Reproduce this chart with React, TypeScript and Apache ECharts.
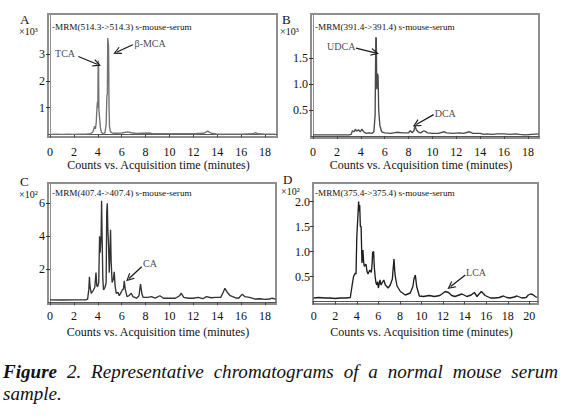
import React, { useEffect, useRef } from 'react';
import * as echarts from 'echarts';

const FONT = 'Liberation Serif, serif';

// Panel A: -MRM(514.3->514.3), counts x10^3 vs time (min)
const dataA: [number, number][] = [
  [0, 0], [0.5, 0.01], [1, 0], [1.5, 0.01], [2, 0], [2.5, 0.01], [3, 0.01], [3.4, 0.02],
  [3.6, 0.1], [3.72, 0.3], [3.8, 0.2], [3.87, 0.45], [3.93, 1.0], [3.97, 1.22], [4.0, 1.0],
  [4.03, 2.75], [4.06, 2.7], [4.09, 0.95], [4.15, 0.6], [4.22, 0.25], [4.3, 0.08], [4.45, 0.02],
  [4.6, 0.05], [4.7, 0.4], [4.76, 1.45], [4.8, 1.5], [4.83, 3.6], [4.86, 3.62], [4.9, 3.3],
  [4.94, 1.0], [4.98, 0.3], [5.05, 0.1], [5.2, 0.05], [5.5, 0.04], [6, 0.05], [6.5, 0.09],
  [6.8, 0.06], [7.2, 0.03], [7.7, 0.04], [8.3, 0.05], [8.5, 0.03], [9, 0.02], [10, 0.02],
  [11, 0.02], [12, 0.02], [12.9, 0.04], [13.2, 0.12], [13.5, 0.04], [14, 0.01], [15, 0.01],
  [16, 0.01], [17, 0.02], [17.2, 0.06], [17.4, 0.02], [18, 0.01], [18.85, 0.01],
];

// Panel B: -MRM(391.4->391.4), counts x10^3
const dataB: [number, number][] = [
  [0, 0.02], [1, 0.02], [2, 0.02], [3, 0.02], [3.2, 0.03], [3.3, 0.1], [3.45, 0.08], [3.55, 0.13],
  [3.65, 0.09], [3.8, 0.12], [3.95, 0.08], [4.1, 0.13], [4.25, 0.08], [4.45, 0.05], [4.7, 0.06],
  [4.95, 0.05], [5.1, 0.08], [5.2, 0.4], [5.26, 1.9], [5.3, 1.88], [5.34, 0.9], [5.4, 1.2],
  [5.45, 1.15], [5.5, 0.5], [5.6, 0.2], [5.75, 0.08], [6, 0.06], [6.5, 0.05], [7, 0.07],
  [7.5, 0.06], [8, 0.06], [8.15, 0.1], [8.3, 0.06], [8.45, 0.1], [8.55, 0.19], [8.65, 0.12],
  [8.8, 0.08], [9, 0.06], [9.3, 0.1], [9.6, 0.06], [10, 0.05], [10.5, 0.05], [11, 0.08],
  [11.2, 0.06], [11.7, 0.05], [12.3, 0.06], [12.6, 0.05], [13.1, 0.08], [13.4, 0.05], [14, 0.05],
  [14.3, 0.03], [14.6, 0.04], [15, 0.03], [15.4, 0.04], [16, 0.04], [16.5, 0.03], [17, 0.04],
  [17.3, 0.03], [17.8, 0.02], [18.3, 0.03], [18.9, 0.04],
];

// Panel C: -MRM(407.4->407.4), counts x10^2
const dataC: [number, number][] = [
  [0, 0.15], [1, 0.14], [2, 0.15], [3, 0.15], [3.15, 0.2], [3.25, 0.8], [3.3, 1.55], [3.36, 0.9],
  [3.45, 0.55], [3.6, 0.7], [3.75, 0.9], [3.85, 1.8], [3.92, 1.0], [4.0, 0.95], [4.08, 1.2],
  [4.15, 4.0], [4.2, 3.0], [4.28, 4.0], [4.32, 6.15], [4.36, 4.2], [4.42, 1.5], [4.48, 0.75],
  [4.6, 0.9], [4.7, 1.2], [4.75, 5.5], [4.8, 6.0], [4.84, 4.5], [4.9, 3.5], [4.96, 1.8],
  [5.02, 3.0], [5.07, 4.4], [5.12, 2.5], [5.2, 1.2], [5.3, 1.4], [5.38, 1.85], [5.45, 1.0],
  [5.55, 0.55], [5.7, 0.6], [5.8, 0.4], [5.95, 0.6], [6.05, 0.75], [6.15, 0.8], [6.22, 1.3],
  [6.3, 0.8], [6.45, 0.35], [6.6, 0.4], [6.8, 0.55], [6.95, 0.35], [7.1, 0.3], [7.25, 0.25],
  [7.45, 0.4], [7.58, 1.1], [7.7, 0.5], [7.8, 0.3], [8.2, 0.3], [8.5, 0.35], [8.8, 0.25],
  [9.2, 0.4], [9.5, 0.25], [10, 0.25], [10.5, 0.25], [10.85, 0.4], [11.0, 0.55], [11.2, 0.3],
  [11.6, 0.25], [12, 0.25], [12.4, 0.3], [12.8, 0.22], [13.1, 0.35], [13.5, 0.28], [13.9, 0.3],
  [14.3, 0.3], [14.5, 0.6], [14.65, 0.85], [14.85, 0.6], [15.1, 0.4], [15.5, 0.28], [15.8, 0.25],
  [16.1, 0.5], [16.3, 0.35], [16.7, 0.3], [17.2, 0.2], [17.6, 0.22], [18, 0.18], [18.4, 0.2],
  [18.6, 0.25], [18.9, 0.2],
];

// Panel D: -MRM(375.4->375.4), counts x10^2
const dataD: [number, number][] = [
  [0, 0.07], [0.5, 0.08], [1, 0.07], [1.5, 0.07], [2, 0.06], [2.5, 0.07], [3, 0.07], [3.4, 0.08],
  [3.6, 0.37], [3.7, 0.5], [3.86, 0.57], [3.93, 0.55], [4.0, 1.3], [4.1, 1.7], [4.17, 2.0],
  [4.22, 1.8], [4.27, 1.93], [4.33, 1.5], [4.4, 1.5], [4.48, 0.77], [4.57, 1.03], [4.63, 0.8],
  [4.7, 0.7], [4.85, 0.75], [4.95, 0.6], [5.04, 0.55], [5.2, 0.63], [5.35, 0.58], [5.42, 0.75],
  [5.47, 0.98], [5.56, 1.0], [5.62, 0.7], [5.7, 0.5], [5.78, 0.37], [5.87, 0.33], [5.93, 0.4],
  [6.0, 0.27], [6.15, 0.43], [6.25, 0.33], [6.34, 0.37], [6.5, 0.43], [6.65, 0.33], [6.9, 0.27],
  [7.1, 0.33], [7.3, 0.45], [7.36, 0.63], [7.45, 0.85], [7.52, 0.6], [7.57, 0.5], [7.73, 0.31],
  [8.04, 0.2], [8.5, 0.13], [8.96, 0.17], [9.2, 0.3], [9.3, 0.45], [9.43, 0.53], [9.55, 0.3],
  [9.8, 0.11], [10.2, 0.1], [10.7, 0.12], [11.2, 0.1], [11.7, 0.12], [12.2, 0.2], [12.5, 0.18],
  [12.8, 0.12], [13.1, 0.1], [13.75, 0.15], [14.2, 0.1], [14.6, 0.13], [14.9, 0.18], [15.15, 0.1],
  [15.3, 0.14], [15.55, 0.2], [15.9, 0.12], [16.4, 0.07], [16.8, 0.07], [17.2, 0.08], [17.6, 0.11],
  [17.9, 0.08], [18.2, 0.07], [18.6, 0.09], [18.85, 0.11], [19.3, 0.07], [19.7, 0.08], [19.9, 0.13],
  [20.1, 0.15], [20.3, 0.14], [20.55, 0.1], [20.7, 0.08],
];

const xTicks19 = [0, 2, 4, 6, 8, 10, 12, 14, 16, 18];
const xTicks20 = [0, 2, 4, 6, 8, 10, 12, 14, 16, 18, 20];
const yTicksA = [1, 2, 3];
const yTicksB = [0.5, 1.0, 1.5];
const yTicksC = [2, 4, 6];
const yTicksD = [0.5, 1.0, 1.5, 2.0];

type Ann = { name: string; label: [number, number]; from: [number, number]; to: [number, number] };
const annA: Ann[] = [
  { name: 'TCA', label: [1.26, 3.04], from: [2.37, 2.91], to: [3.95, 2.62] },
  { name: 'β-MCA', label: [8.38, 3.41], from: [6.93, 3.35], to: [5.6, 3.08] },
];
const annB: Ann[] = [
  { name: 'UDCA', label: [2.36, 1.72], from: [3.6, 1.69], to: [5.2, 1.6] },
  { name: 'DCA', label: [11.08, 0.44], from: [10.1, 0.41], to: [8.65, 0.22] },
];
const annC: Ann[] = [
  { name: 'CA', label: [8.38, 2.36], from: [7.68, 2.16], to: [6.62, 1.45] },
];
const annD: Ann[] = [
  { name: 'LCA', label: [15.06, 0.58], from: [14.06, 0.53], to: [12.7, 0.3] },
];

const axisName = 'Counts vs. Acquisition time (minutes)';
const captionLine1 = ['Figure', '2.', 'Representative', 'chromatograms', 'of', 'a', 'normal', 'mouse', 'serum'];
const captionLine2 = ['sample.'];

const ARROW = 'path://M0,10L5,0L10,10L8.4,10L5,3.2L1.6,10Z';

const panels = [
  { letter: 'A', mult: '×10³', mrm: '-MRM(514.3->514.3) s-mouse-serum', data: dataA, ann: annA,
    grid: { left: 48, top: 14, width: 229, height: 123 }, xMin: -0.17, xMax: 19.0, yMin: -0.1, yMax: 4.5,
    xTicks: xTicks19, yTicks: yTicksA, yDigits: 0, color: '#727272', offset: 4, margin: 5, gap: 18,
    letterPos: [20, 19], multPos: [19, 31.5], mrmPos: [52, 27] },
  { letter: 'B', mult: '×10³', mrm: '-MRM(391.4->391.4) s-mouse-serum', data: dataB, ann: annB,
    grid: { left: 311, top: 14, width: 228, height: 124 }, xMin: -0.17, xMax: 18.93, yMin: -0.04, yMax: 2.35,
    xTicks: xTicks19, yTicks: yTicksB, yDigits: 1, color: '#4a4a4a', offset: 3, margin: 5, gap: 18,
    letterPos: [282, 19], multPos: [280, 31.5], mrmPos: [315, 27] },
  { letter: 'C', mult: '×10²', mrm: '-MRM(407.4->407.4) s-mouse-serum', data: dataC, ann: annC,
    grid: { left: 48, top: 183, width: 228, height: 121 }, xMin: -0.17, xMax: 18.93, yMin: -0.1, yMax: 7.23,
    xTicks: xTicks19, yTicks: yTicksC, yDigits: 0, color: '#333333', offset: 3, margin: 3, gap: 19,
    letterPos: [20, 181.5], multPos: [19, 194.5], mrmPos: [52, 192.5] },
  { letter: 'D', mult: '×10²', mrm: '-MRM(375.4->375.4) s-mouse-serum', data: dataD, ann: annD,
    grid: { left: 313, top: 183, width: 225, height: 121 }, xMin: -0.06, xMax: 20.8, yMin: -0.05, yMax: 2.37,
    xTicks: xTicks20, yTicks: yTicksD, yDigits: 1, color: '#1e1e1e', offset: 3, margin: 3, gap: 19,
    letterPos: [283, 179.5], multPos: [281, 191.5], mrmPos: [315, 192.5] },
];

const CAP_SIZE = 18;
const CAP_SCALE = 1.06;
const CAP_LEFT = 3;
const CAP_RIGHT = 558;

function capFont(bold: boolean) {
  return `italic ${bold ? 'bold ' : ''}${CAP_SIZE}px Liberation Serif, serif`;
}

function justifiedX(words: string[]): number[] {
  const ctx = document.createElement('canvas').getContext('2d');
  const widths = words.map((w, k) => {
    if (!ctx) return w.length * CAP_SIZE * 0.45 * CAP_SCALE;
    ctx.font = capFont(k === 0);
    return ctx.measureText(w).width * CAP_SCALE;
  });
  const total = widths.reduce((s, v) => s + v, 0);
  const gap = (CAP_RIGHT - CAP_LEFT - total) / (words.length - 1);
  const xs: number[] = [];
  let x = CAP_LEFT;
  widths.forEach((w) => {
    xs.push(x);
    x += w + gap;
  });
  return xs;
}

function buildOption() {
  const grid = panels.map((p) => ({
    ...p.grid,
    show: true,
    borderColor: '#8e8e8e',
    borderWidth: 2,
    backgroundColor: 'transparent',
  }));
  const xAxis = panels.map((p, i) => ({
    type: 'value',
    gridIndex: i,
    min: p.xMin,
    max: p.xMax,
    offset: p.offset,
    name: axisName,
    nameLocation: 'middle',
    nameGap: p.gap,
    nameTextStyle: { fontFamily: FONT, fontSize: 12, color: '#111', padding: [0, 8, 0, 0] },
    axisLine: { show: true, lineStyle: { color: '#555', width: 1 } },
    axisTick: { show: true, length: 3, customValues: p.xTicks, lineStyle: { color: '#444' } },
    axisLabel: { customValues: p.xTicks, margin: p.margin, fontFamily: FONT, fontSize: 12, color: '#111' },
    splitLine: { show: false },
  }));
  const yAxis = panels.map((p, i) => ({
    type: 'value',
    gridIndex: i,
    min: p.yMin,
    max: p.yMax,
    axisLine: { show: true, lineStyle: { color: '#8e8e8e', width: 1 } },
    axisTick: { show: true, length: 4, customValues: p.yTicks, lineStyle: { color: '#333' } },
    axisLabel: {
      customValues: p.yTicks,
      margin: 3,
      fontFamily: FONT,
      fontSize: 12,
      color: '#111',
      formatter: (v: number) => v.toFixed(p.yDigits),
    },
    splitLine: { show: false },
  }));
  const series: any[] = [];
  panels.forEach((p, i) => {
    series.push({
      type: 'line',
      xAxisIndex: i,
      yAxisIndex: i,
      data: p.data,
      showSymbol: false,
      symbol: 'none',
      lineStyle: { color: p.color, width: 1.35 },
      silent: true,
      markLine: {
        silent: true,
        symbol: ['none', ARROW],
        symbolSize: 8,
        lineStyle: { color: '#1a1a1a', width: 1.3, type: 'solid' },
        label: { show: false },
        emphasis: { disabled: true },
        data: p.ann.map((a) => [{ coord: a.from }, { coord: a.to }]),
      },
    });
    series.push({
      type: 'scatter',
      xAxisIndex: i,
      yAxisIndex: i,
      symbolSize: 1,
      itemStyle: { color: 'transparent' },
      silent: true,
      data: p.ann.map((a) => ({ value: a.label, name: a.name })),
      label: {
        show: true,
        position: 'inside',
        formatter: '{b}',
        fontFamily: FONT,
        fontSize: 10,
        color: '#111',
      },
    });
  });
  const graphic: any[] = [];
  panels.forEach((p) => {
    graphic.push({
      type: 'text', x: p.letterPos[0], y: p.letterPos[1], silent: true,
      style: { text: p.letter, fontFamily: FONT, fontSize: 13, fill: '#111', verticalAlign: 'middle' },
    });
    graphic.push({
      type: 'text', x: p.multPos[0], y: p.multPos[1], silent: true,
      style: { text: p.mult, fontFamily: FONT, fontSize: 10, fill: '#111', verticalAlign: 'middle' },
    });
    graphic.push({
      type: 'text', x: p.mrmPos[0], y: p.mrmPos[1], silent: true,
      style: { text: p.mrm, fontFamily: FONT, fontSize: 9.2, fill: '#111', verticalAlign: 'middle' },
    });
  });
  const xs = justifiedX(captionLine1);
  captionLine1.forEach((w, k) => {
    graphic.push({
      type: 'text', x: xs[k], y: 372, scaleX: CAP_SCALE, silent: true,
      style: {
        text: w,
        fontFamily: FONT,
        fontSize: CAP_SIZE,
        fontStyle: 'italic',
        fontWeight: k === 0 ? 'bold' : 'normal',
        fill: '#111',
        verticalAlign: 'middle',
      },
    });
  });
  captionLine2.forEach((w) => {
    graphic.push({
      type: 'text', x: CAP_LEFT, y: 394, scaleX: CAP_SCALE, silent: true,
      style: { text: w, fontFamily: FONT, fontSize: CAP_SIZE, fontStyle: 'italic', fill: '#111', verticalAlign: 'middle' },
    });
  });
  return {
    animation: false,
    backgroundColor: '#ffffff',
    grid,
    xAxis,
    yAxis,
    series,
    graphic,
  };
}

export default function App() {
  const ref = useRef<HTMLDivElement>(null);
  useEffect(() => {
    if (!ref.current) return;
    const chart = echarts.init(ref.current, null, { renderer: 'svg', width: 564, height: 416 });
    chart.setOption(buildOption() as any);
    return () => chart.dispose();
  }, []);
  return (
    <div
      ref={ref}
      style={{ position: 'fixed', left: 0, top: 0, width: 564, height: 416, background: '#fff' }}
    />
  );
}
